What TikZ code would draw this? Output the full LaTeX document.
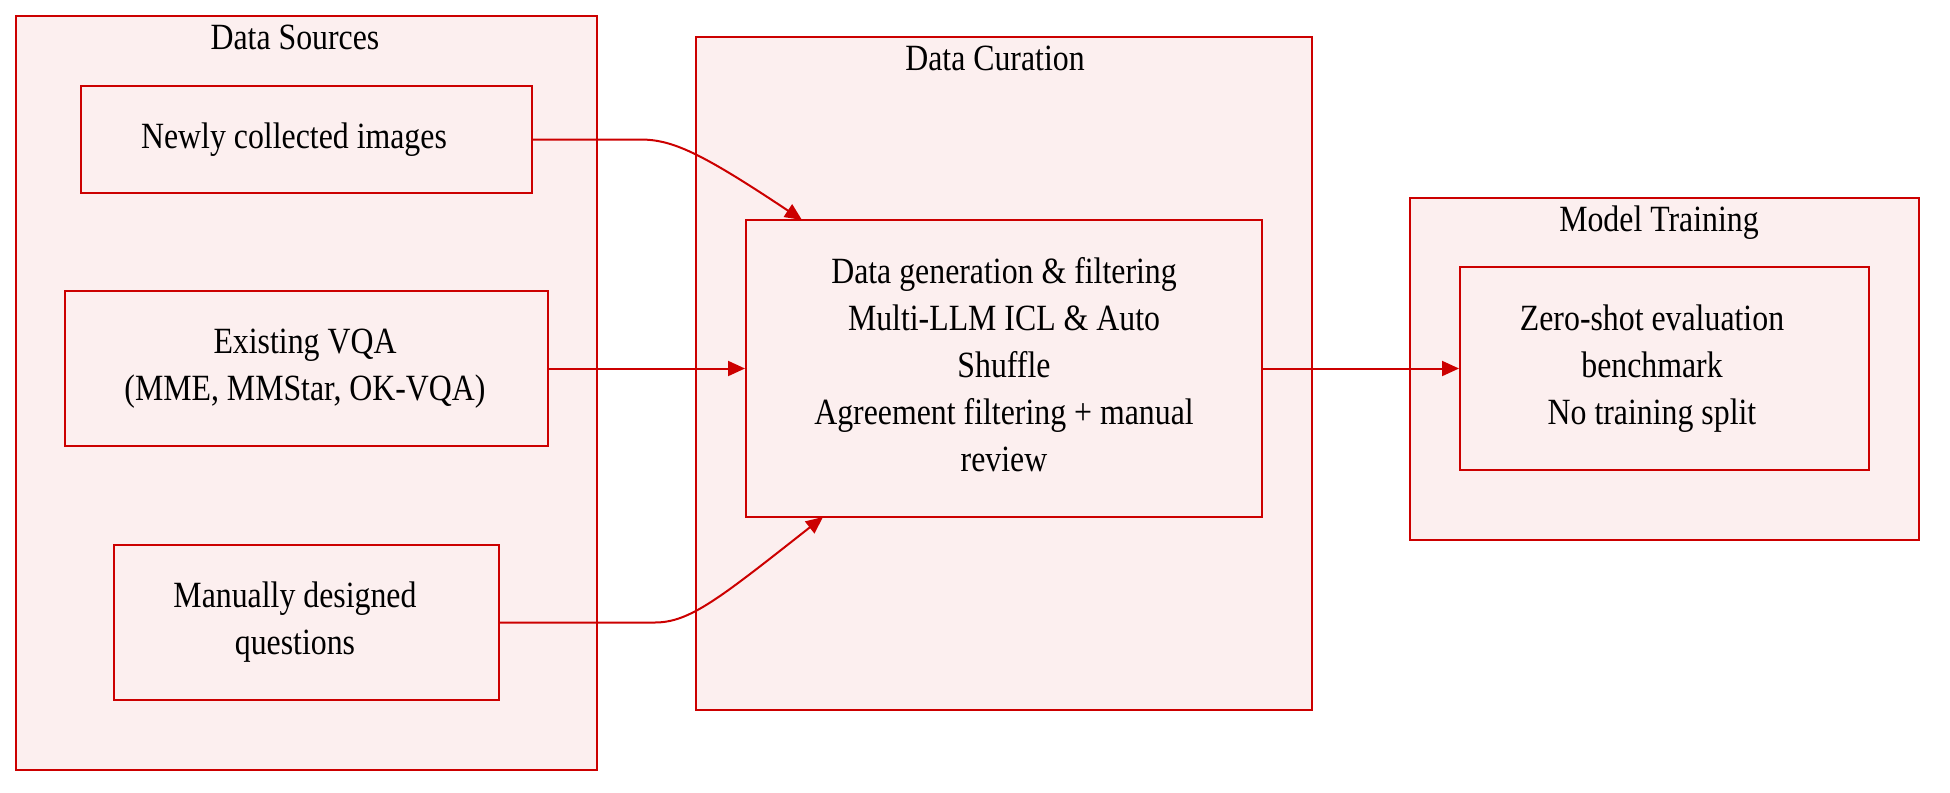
\documentclass[tikz,border=0pt]{standalone}
\usepackage{fontspec}
\setmainfont{Liberation Serif}[FakeStretch=0.86]
\usetikzlibrary{arrows.meta}
\definecolor{redline}{HTML}{CC0000}
\definecolor{pinkfill}{HTML}{FCEFEF}
\begin{document}
\begin{tikzpicture}[x=1pt,y=-1pt,
  cluster/.style={draw=redline,fill=pinkfill,line width=2pt,rectangle,inner sep=0pt},
  box/.style={draw=redline,fill=pinkfill,line width=2pt,rectangle,inner sep=0pt},
  boxtext/.style={align=center,inner sep=0pt,font=\fontsize{37}{47}\selectfont},
  title/.style={font=\fontsize{37}{47}\selectfont,inner sep=0pt},
  conn/.style={draw=redline,line width=2pt,-{Triangle[length=17pt,width=15pt]}}]
\useasboundingbox (0,0) rectangle (1950,792);
% clusters
\node[cluster,minimum width=581pt,minimum height=754pt] (srcC) at (306.5,393) {};
\node[title] (srcT) at (295,37) {Data Sources};
\node[cluster,minimum width=616pt,minimum height=673pt] (curC) at (1004,373.5) {};
\node[title] (curT) at (995,58) {Data Curation};
\node[cluster,minimum width=509pt,minimum height=342pt] (modC) at (1664.5,369) {};
\node[title] (modT) at (1659,223) {Model Training};
% boxes
\node[box,minimum width=451pt,minimum height=107pt] (newly) at (306.5,139.5) {};
\node[boxtext] (newlyT) at (294,139.5) {Newly collected images};
\node[box,minimum width=483pt,minimum height=155pt] (exist) at (306.5,368.5) {};
\node[boxtext] (existT) at (305,368.5) {Existing VQA\\(MME, MMStar, OK-VQA)};
\node[box,minimum width=385pt,minimum height=155pt] (manual) at (306.5,622.5) {};
\node[boxtext] (manualT) at (295,622.5) {Manually designed\\questions};
\node[box,minimum width=516pt,minimum height=297pt] (gen) at (1004,368.5) {};
\node[boxtext] (genT) at (1004,365) {Data generation \& filtering\\Multi-LLM ICL \& Auto\\Shuffle\\Agreement filtering + manual\\review};
\node[box,minimum width=409pt,minimum height=203pt] (zero) at (1664.5,368.5) {};
\node[boxtext] (zeroT) at (1652,368.5) {Zero-shot evaluation\\benchmark\\No training split};
% connectors
\coordinate (g1) at (802,220);
\coordinate (g2) at (823,517);
\draw[conn] (newly.east) -- (640,139.5) .. controls (672,139.5) and (700,152) .. (g1);
\draw[conn] (exist.east) -- (gen.west);
\draw[conn] (manual.east) -- (655,622.5) .. controls (690,622.5) and (720,598) .. (g2);
\draw[conn] (gen.east) -- (zero.west);
\end{tikzpicture}
\end{document}
